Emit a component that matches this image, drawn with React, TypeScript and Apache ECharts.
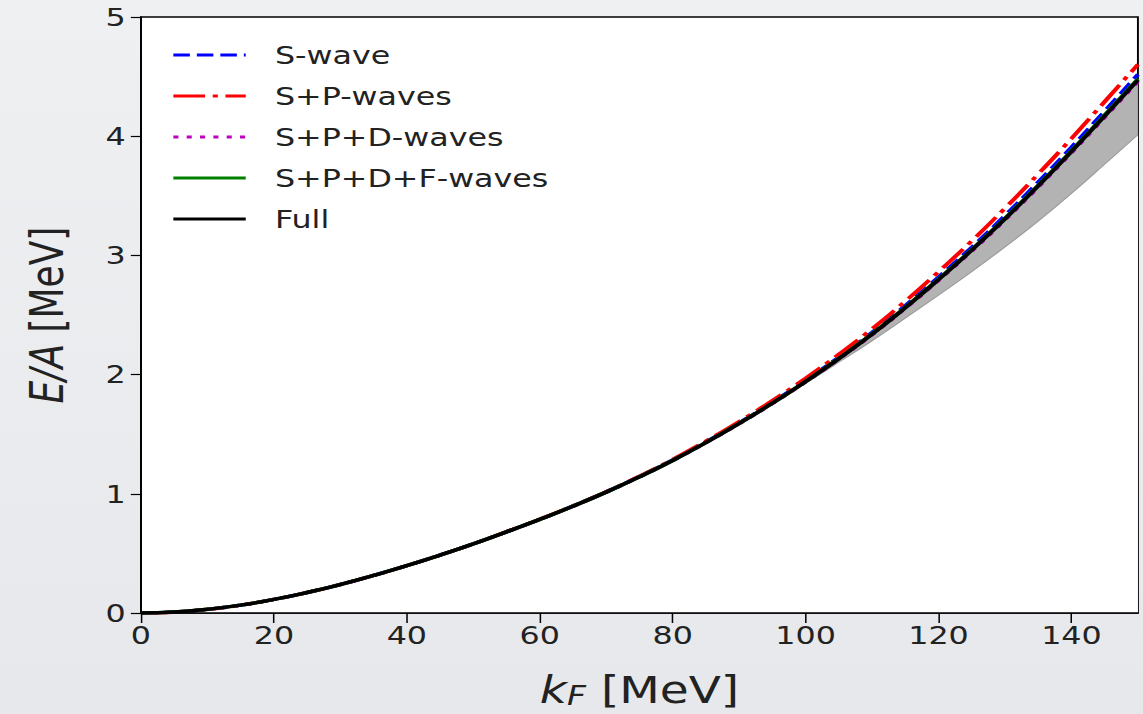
import React, { useEffect, useRef } from "react";
import * as echarts from "echarts";

const kF = [0, 5, 10, 15, 20, 25, 30, 35, 40, 45, 50, 55, 60, 65, 70, 75, 80, 85, 90, 95, 100, 105, 110, 115, 120, 125, 130, 135, 140, 145, 150];

const full = [0, 0.008, 0.031, 0.066, 0.114, 0.172, 0.239, 0.315, 0.397, 0.486, 0.580, 0.681, 0.785, 0.896, 1.014, 1.142, 1.280, 1.430, 1.590, 1.760, 1.941, 2.134, 2.339, 2.561, 2.797, 3.044, 3.306, 3.583, 3.871, 4.170, 4.472];
const sWave = [0, 0.008, 0.031, 0.066, 0.114, 0.172, 0.239, 0.315, 0.397, 0.486, 0.580, 0.681, 0.785, 0.897, 1.016, 1.145, 1.284, 1.435, 1.596, 1.768, 1.951, 2.146, 2.354, 2.579, 2.818, 3.068, 3.334, 3.615, 3.907, 4.210, 4.517];
const spWaves = [0, 0.008, 0.031, 0.066, 0.114, 0.172, 0.239, 0.315, 0.397, 0.486, 0.580, 0.682, 0.787, 0.899, 1.018, 1.148, 1.288, 1.442, 1.606, 1.781, 1.969, 2.170, 2.384, 2.616, 2.863, 3.122, 3.396, 3.683, 3.981, 4.290, 4.602];
const spdWaves = [0, 0.008, 0.031, 0.066, 0.114, 0.172, 0.239, 0.315, 0.397, 0.486, 0.580, 0.681, 0.785, 0.896, 1.014, 1.142, 1.279, 1.429, 1.588, 1.758, 1.938, 2.131, 2.335, 2.556, 2.791, 3.037, 3.298, 3.574, 3.861, 4.159, 4.460];
const spdfWaves = [0, 0.008, 0.031, 0.066, 0.114, 0.172, 0.239, 0.315, 0.397, 0.486, 0.580, 0.681, 0.785, 0.896, 1.014, 1.142, 1.280, 1.430, 1.591, 1.761, 1.943, 2.136, 2.342, 2.564, 2.801, 3.048, 3.311, 3.588, 3.877, 4.177, 4.480];
const bandLower = [0, 0.008, 0.031, 0.066, 0.114, 0.172, 0.239, 0.315, 0.397, 0.486, 0.580, 0.681, 0.785, 0.896, 1.014, 1.142, 1.279, 1.428, 1.586, 1.754, 1.927, 2.104, 2.284, 2.473, 2.667, 2.864, 3.071, 3.288, 3.521, 3.765, 4.012];
const bandUpper = full;

const xTicks = [0, 20, 40, 60, 80, 100, 120, 140];
const yTicks = [0, 1, 2, 3, 4, 5];

const SX = 1.27;
const W = 900;
const H = 714;
const FONT = "DejaVu Sans";

const pairs = (ys: number[]) => kF.map((k, i) => [k, ys[i]]);

export default function App() {
  const ref = useRef<HTMLDivElement>(null);
  useEffect(() => {
    if (!ref.current) return;
    const chart = echarts.init(ref.current, undefined, { renderer: "svg", width: W, height: H });
    const lineSeries = (name: string, ys: number[], color: string, type: any, width = 3.5) => ({
      name,
      type: "line",
      data: pairs(ys),
      symbol: "none",
      smooth: true,
      lineStyle: { color, width, type, cap: "butt" },
      itemStyle: { color },
      z: 3,
    });
    chart.setOption({
      animation: false,
      backgroundColor: "transparent",
      grid: {
        left: 111,
        right: 4,
        top: 17,
        bottom: 100.5,
        show: true,
        backgroundColor: "#ffffff",
        borderColor: "#000000",
        borderWidth: 1.5,
      },
      legend: {
        orient: "vertical",
        left: 135,
        top: 40,
        padding: 0,
        itemWidth: 57,
        itemHeight: 14,
        itemGap: 11,
        itemStyle: { opacity: 0 },
        lineStyle: { width: 3 },
        data: ["S-wave", "S+P-waves", "S+P+D-waves", "S+P+D+F-waves", "Full"],
        textStyle: { fontFamily: FONT, fontSize: 25, color: "#222", lineHeight: 30, padding: [0, 0, 0, 18] },
      },
      xAxis: {
        type: "value",
        min: 0,
        max: 150,
        interval: 20,
        z: 10,
        name: "{i|k}{s|F} [MeV]",
        nameLocation: "middle",
        nameGap: 59,
        nameTextStyle: {
          fontFamily: FONT,
          fontSize: 37,
          color: "#222",
          rich: {
            i: { fontFamily: FONT, fontSize: 37, fontStyle: "italic", color: "#222" },
            s: { fontFamily: FONT, fontSize: 26, fontStyle: "italic", color: "#222", verticalAlign: "bottom", lineHeight: 16 },
          },
        },
        axisLine: { lineStyle: { color: "#000", width: 1.5 } },
        axisTick: { inside: false, length: 10, lineStyle: { color: "#000", width: 1.2 } },
        axisLabel: {
          fontFamily: FONT,
          fontSize: 25,
          color: "#222",
          margin: 10,
          showMaxLabel: false,
          formatter: (v: number) => (xTicks.includes(v) ? String(v) : ""),
        },
        splitLine: { show: false },
      },
      yAxis: {
        type: "value",
        min: 0,
        max: 5,
        interval: 1,
        z: 10,
        name: "{i|E/A} [MeV]",
        nameLocation: "middle",
        nameGap: 56,
        nameTextStyle: {
          fontFamily: FONT,
          fontSize: 36,
          color: "#222",
          rich: {
            i: { fontFamily: FONT, fontSize: 36, fontStyle: "italic", color: "#222" },
          },
        },
        axisLine: { lineStyle: { color: "#000", width: 1.5 } },
        axisTick: { inside: false, length: 8, lineStyle: { color: "#000", width: 1.2 } },
        axisLabel: {
          fontFamily: FONT,
          fontSize: 25,
          color: "#222",
          margin: 12,
          formatter: (v: number) => (yTicks.includes(v) ? String(v) : ""),
        },
        splitLine: { show: false },
      },
      series: [
        {
          name: "bandUpper",
          type: "line",
          data: pairs(bandUpper),
          symbol: "none",
          smooth: true,
          lineStyle: { width: 0, opacity: 0 },
          areaStyle: { color: "#b3b3b3", opacity: 1, origin: "start" },
          z: 1,
        },
        {
          name: "bandLower",
          type: "line",
          data: pairs(bandLower),
          symbol: "none",
          smooth: true,
          lineStyle: { color: "#9a9a9a", width: 1 },
          areaStyle: { color: "#ffffff", opacity: 1, origin: "start" },
          z: 1.5,
        },
        lineSeries("S-wave", sWave, "#0000ff", [13, 5.5]),
        lineSeries("S+P-waves", spWaves, "#ff0000", [25, 6, 4, 6]),
        lineSeries("S+P+D-waves", spdWaves, "#bf00bf", [4, 6.5]),
        lineSeries("S+P+D+F-waves", spdfWaves, "#008000", "solid"),
        lineSeries("Full", full, "#000000", "solid"),
      ],
    });
    return () => chart.dispose();
  }, []);

  return (
    <div
      style={{
        position: "fixed",
        left: 0,
        top: 0,
        width: 1143,
        height: 714,
        overflow: "hidden",
        background: "linear-gradient(180deg, #eef0f2 0%, #e6e8eb 100%)",
      }}
    >
      <div
        ref={ref}
        style={{ width: W, height: H, transform: `scaleX(${SX})`, transformOrigin: "0 0" }}
      />
    </div>
  );
}
